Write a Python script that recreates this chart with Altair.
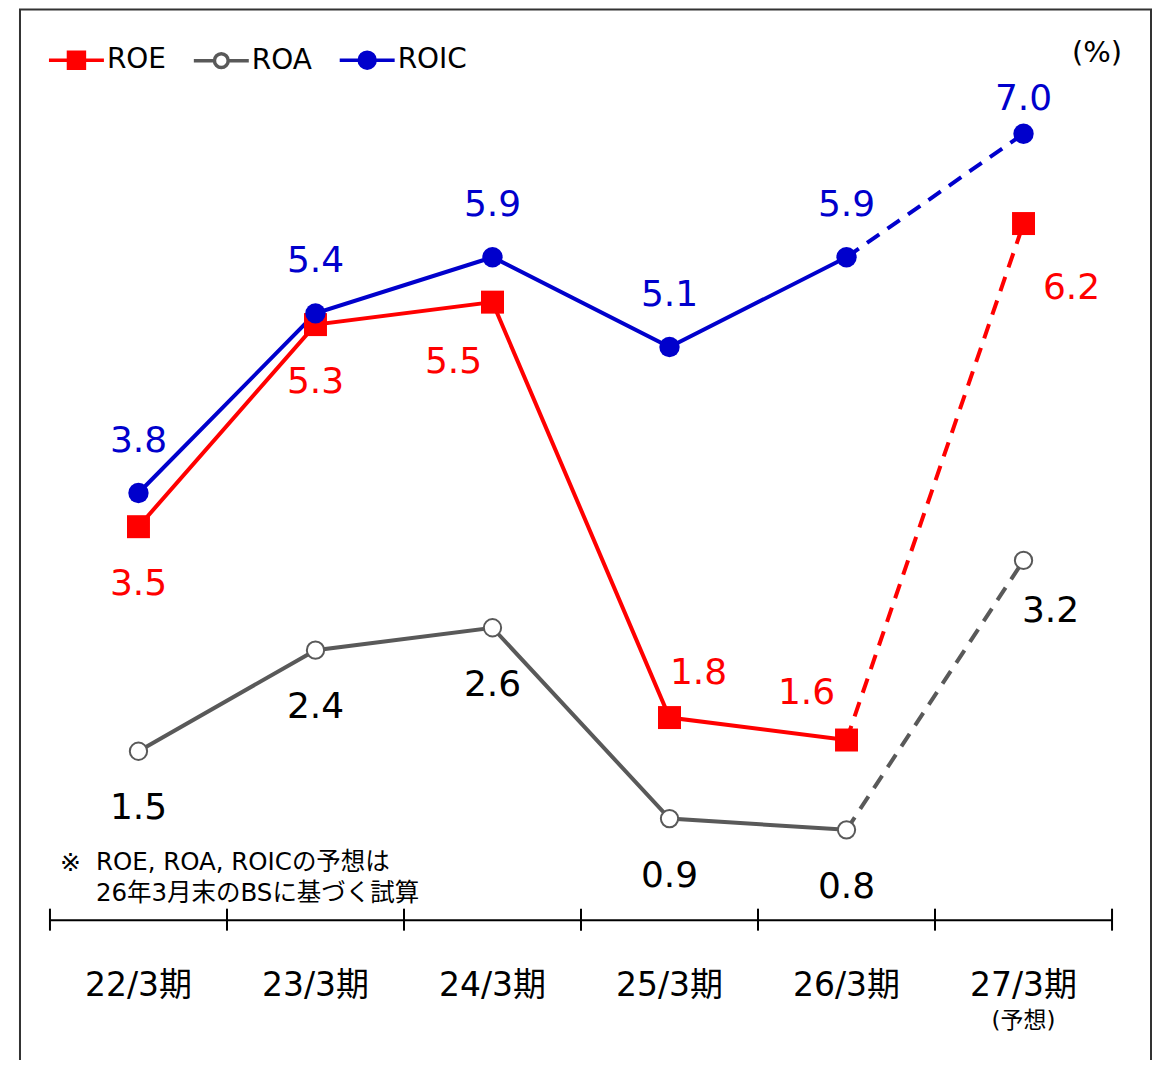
import altair as alt
import pandas as pd
import json

periods = ["22/3期", "23/3期", "24/3期", "25/3期", "26/3期", "27/3期"]
roe = [3.5, 5.3, 5.5, 1.8, 1.6, 6.2]
roa = [1.5, 2.4, 2.6, 0.9, 0.8, 3.2]
roic = [3.8, 5.4, 5.9, 5.1, 5.9, 7.0]
series_names = ["ROE", "ROA", "ROIC"]

rows = []
for name, vals in zip(series_names, [roe, roa, roic]):
    for p, v in zip(periods, vals):
        rows.append({"period": p, "series": name, "value": v})
df = pd.DataFrame(rows)
pdf = pd.DataFrame({"period": periods})

W, H = 1063, 899
FONT = "DejaVu Sans, Noto Sans CJK JP"
RED, GRAY, BLUE = "#FF0000", "#595959", "#0000CC"
COLORS = {"ROE": RED, "ROA": GRAY, "ROIC": BLUE}


def sel(name, pers):
    return f"datum.series === {json.dumps(name)} && indexof({json.dumps(pers, ensure_ascii=False)}, datum.period) >= 0"


xscale = alt.Scale(domain=periods, paddingInner=0, paddingOuter=0)
xenc = alt.X("period:N", sort=periods, scale=xscale,
             axis=alt.Axis(title=None, ticks=False, tickSize=0, labelFontSize=33,
                           labelFont=FONT, labelColor="#000", labelPadding=66,
                           bandPosition=0.5, labelAlign="center",
                           domainColor="#000", domainWidth=2, labelAngle=0, grid=False))
yenc = alt.Y("value:Q", scale=alt.Scale(domain=[0, 8], nice=False, zero=True), axis=None)

base = alt.Chart(df)
layers = []

# frame
layers.append(alt.Chart(pd.DataFrame({"a": [0]})).mark_rect(
    fill=None, stroke="#333333", strokeWidth=2).encode(
    x=alt.value(-30), x2=alt.value(1102), y=alt.value(-12), y2=alt.value(1200)))

# axis cross ticks
layers.append(alt.Chart(pdf).mark_rule(color="#000", strokeWidth=2).encode(
    x=alt.X("period:N", sort=periods, bandPosition=0, scale=xscale),
    y=alt.value(H - 11), y2=alt.value(H + 11)))
layers.append(alt.Chart(pd.DataFrame({"a": [0]})).mark_rule(color="#000", strokeWidth=2).encode(
    x=alt.value(W), y=alt.value(H - 11), y2=alt.value(H + 11)))

# lines
for name in ["ROA", "ROE", "ROIC"]:
    c = COLORS[name]
    layers.append(base.transform_filter(sel(name, periods[:-1])).mark_line(
        color=c, strokeWidth=4).encode(x=xenc, y=yenc))
    layers.append(base.transform_filter(sel(name, periods[-2:])).mark_line(
        color=c, strokeWidth=4, strokeDash=[15, 10]).encode(x=xenc, y=yenc))

# markers
layers.append(base.transform_filter(sel("ROA", periods)).mark_point(
    shape="circle", filled=True, fill="#FFFFFF", stroke=GRAY, strokeWidth=2,
    size=300, opacity=1).encode(x=xenc, y=yenc))
layers.append(base.transform_filter(sel("ROE", periods)).mark_point(
    shape="square", filled=True, fill=RED, size=529, opacity=1).encode(x=xenc, y=yenc))
layers.append(base.transform_filter(sel("ROIC", periods)).mark_point(
    shape="circle", filled=True, fill=BLUE, size=415, opacity=1).encode(x=xenc, y=yenc))

# value labels
label_specs = [
    ("ROIC", periods[:5], 0, -52, BLUE),
    ("ROIC", periods[5:], 0, -35, BLUE),
    ("ROE", periods[:2], 0, 57, RED),
    ("ROE", [periods[2]], -39, 60, RED),
    ("ROE", [periods[3]], 29, -45, RED),
    ("ROE", [periods[4]], -40, -47, RED),
    ("ROE", [periods[5]], 48, 65, RED),
    ("ROA", periods[:5], 0, 57, "#000000"),
    ("ROA", periods[5:], 27, 51, "#000000"),
]
for name, pers, dx, dy, col in label_specs:
    layers.append(base.transform_filter(sel(name, pers)).mark_text(
        dx=dx, dy=dy, fontSize=36, font=FONT, color=col, baseline="middle",
        align="center").encode(x=xenc, y=yenc, text=alt.Text("value:Q", format=".1f")))

# annotations
layers.append(alt.Chart(pdf).transform_filter(alt.datum.period == periods[-1]).mark_text(
    fontSize=23, font=FONT, color="#000", baseline="middle").encode(
    x=xenc, y=alt.value(H + 101), text=alt.value("(予想)")))
layers.append(alt.Chart(pd.DataFrame({"a": [0]})).mark_text(
    fontSize=29, font=FONT, color="#000", baseline="middle", align="center").encode(
    x=alt.value(1048), y=alt.value(32), text=alt.value("(%)")))
layers.append(alt.Chart(pd.DataFrame({"a": [0]})).mark_text(
    fontSize=25, font=FONT, color="#000", baseline="middle", align="left").encode(
    x=alt.value(10), y=alt.value(842), text=alt.value("※")))
layers.append(alt.Chart(pd.DataFrame({"a": [0]})).mark_text(
    fontSize=24.5, font=FONT, color="#000", baseline="top", align="left", lineHeight=31).encode(
    x=alt.value(46), y=alt.value(830),
    text=alt.value(["ROE, ROA, ROICの予想は", "26年3月末のBSに基づく試算"])))

# legend layer (no data drawn)
shape_paths = [
    "M-1,0H1M-0.29,-0.29H0.29V0.29H-0.29Z",
    "M-1,0H-0.25M0.25,0H1M-0.25,0A0.25,0.25,0,1,0,0.25,0A0.25,0.25,0,1,0,-0.25,0Z",
    "M-1,0H1M-0.29,0A0.29,0.29,0,1,0,0.29,0A0.29,0.29,0,1,0,-0.29,0Z",
]
leg = alt.Legend(title=None, orient="none", legendX=-3, legendY=9, direction="horizontal",
                 labelFontSize=28, labelFont=FONT, labelColor="#000", labelOffset=1,
                 columnPadding=20, symbolSize=3025, symbolStrokeWidth=3.5, symbolOpacity=1,
                 padding=0)
layers.append(base.transform_filter("false").mark_point(opacity=1, strokeWidth=3.5).encode(
    x=xenc, y=yenc,
    fill=alt.Fill("series:N", scale=alt.Scale(domain=series_names, range=[RED, "#FFFFFF", BLUE]), legend=leg),
    stroke=alt.Stroke("series:N", scale=alt.Scale(domain=series_names, range=[RED, GRAY, BLUE]), legend=leg),
    shape=alt.Shape("series:N", scale=alt.Scale(domain=series_names, range=shape_paths), legend=leg),
))

chart = alt.layer(*layers).properties(
    width=W, height=H,
    background="#FFFFFF",
    autosize=alt.AutoSizeParams(type="none"),
    padding={"left": 42, "top": 13, "right": 42, "bottom": 140},
).configure_view(strokeWidth=0, stroke="transparent")

chart.save("out.html", embed_options={"renderer": "svg", "actions": False})
